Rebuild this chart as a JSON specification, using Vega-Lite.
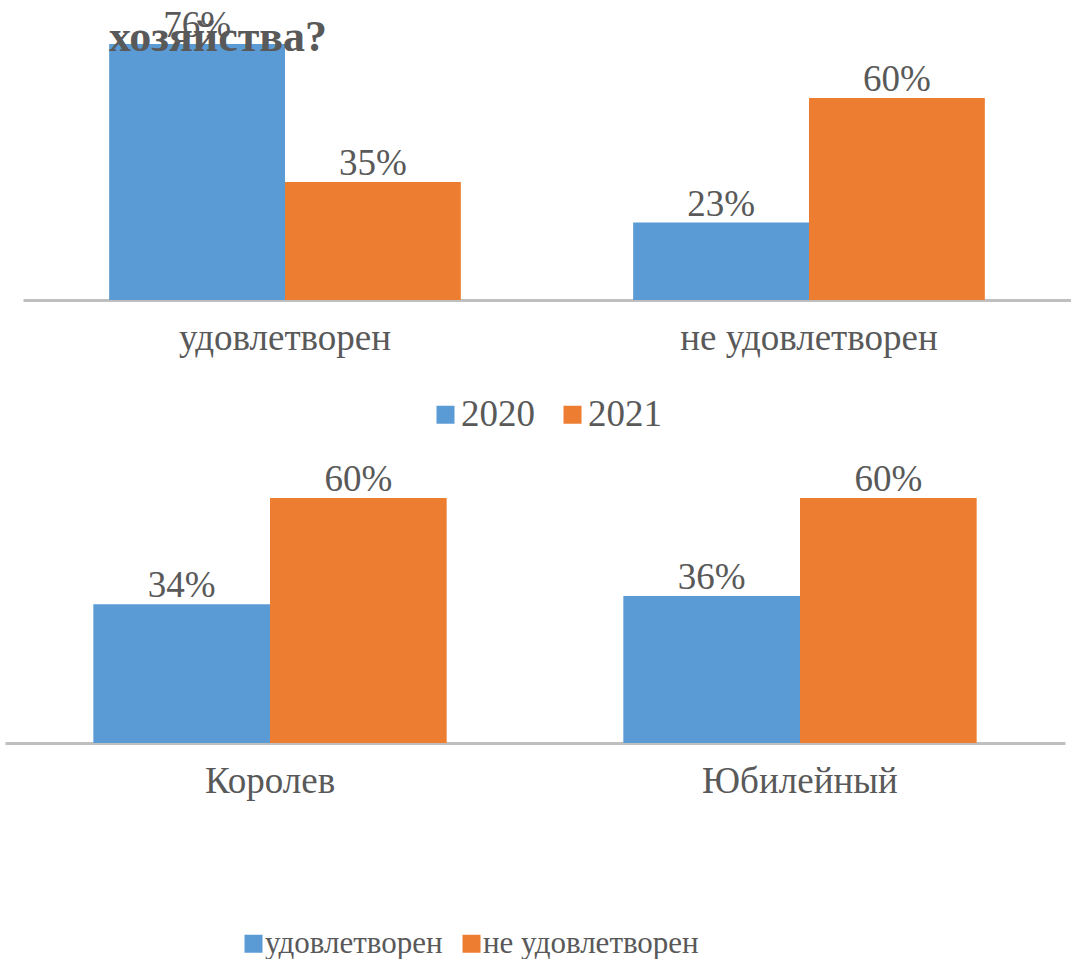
{
  "$schema": "https://vega.github.io/schema/vega-lite/v6.json",
  "padding": {"left": 5, "top": 7, "right": 0, "bottom": 0},
  "autosize": {"type": "pad"},
  "background": "white",
  "align": "none",
  "spacing": 28,
  "config": {
    "font": "Liberation Serif",
    "view": {"stroke": null},
    "axis": {"labelFont": "Liberation Serif", "labelColor": "#595959", "labelFontSize": 37, "labelLimit": 500, "grid": false},
    "legend": {"labelFont": "Liberation Serif", "labelColor": "#595959", "labelFontSize": 37, "labelLimit": 500, "padding": 0}
  },
  "datasets": {
    "top": [
      {"answer": "удовлетворен", "year": "2020", "value": 0.76},
      {"answer": "удовлетворен", "year": "2021", "value": 0.35},
      {"answer": "не удовлетворен", "year": "2020", "value": 0.23},
      {"answer": "не удовлетворен", "year": "2021", "value": 0.60}
    ],
    "bottom": [
      {"city": "Королев", "answer": "удовлетворен", "value": 0.34},
      {"city": "Королев", "answer": "не удовлетворен", "value": 0.60},
      {"city": "Юбилейный", "answer": "удовлетворен", "value": 0.36},
      {"city": "Юбилейный", "answer": "не удовлетворен", "value": 0.60}
    ]
  },
  "resolve": {
    "scale": {"color": "independent", "x": "independent", "xOffset": "independent", "y": "independent"},
    "legend": {"color": "independent"}
  },
  "vconcat": [
    {
      "width": 1051,
      "height": 256,
      "data": {"name": "top"},
      "title": {"text": "хозяйства?", "anchor": "start", "frame": "group", "orient": "top", "offset": -88, "baseline": "alphabetic", "dx": 89, "fontSize": 44, "fontWeight": "bold", "font": "Liberation Serif", "color": "#595959"},
      "encoding": {
        "x": {"field": "answer", "type": "nominal", "sort": ["удовлетворен", "не удовлетворен"], "scale": {"paddingInner": 0, "paddingOuter": 0, "range": [3, 1051]},
          "axis": {"title": null, "labelAngle": 0, "ticks": false, "tickSize": 0, "labelPadding": 20, "domainColor": "#BFBFBF", "domainWidth": 3}},
        "xOffset": {"field": "year", "type": "nominal", "sort": ["2020", "2021"], "scale": {"paddingOuter": 0.49, "paddingInner": 0}},
        "y": {"field": "value", "type": "quantitative", "scale": {"domain": [0, 0.76]},
          "axis": {"title": null, "labels": false, "ticks": false, "grid": false, "domain": true, "domainColor": "white", "offset": 15}}
      },
      "layer": [
        {
          "mark": {"type": "bar"},
          "encoding": {
            "color": {"field": "year", "type": "nominal", "sort": ["2020", "2021"], "scale": {"range": ["#5B9BD5", "#ED7D31"]},
              "legend": {"orient": "none", "legendX": 407, "legendY": 352, "direction": "horizontal", "title": null, "symbolType": "square", "symbolSize": 324, "columnPadding": 19, "labelOffset": -3, "symbolStrokeWidth": 0}}
          }
        },
        {
          "mark": {"type": "text", "baseline": "alphabetic", "dy": -7, "fontSize": 37, "color": "#595959", "font": "Liberation Serif"},
          "encoding": {"text": {"field": "value", "type": "quantitative", "format": ".0%"}}
        }
      ]
    },
    {
      "width": 1051,
      "height": 245,
      "data": {"name": "bottom"},
      "encoding": {
        "x": {"field": "city", "type": "nominal", "sort": ["Королев", "Юбилейный"], "scale": {"paddingInner": 0, "paddingOuter": 0, "range": [-15, 1045]},
          "axis": {"title": null, "labelAngle": 0, "ticks": false, "tickSize": 0, "labelPadding": 20, "domainColor": "#BFBFBF", "domainWidth": 3}},
        "xOffset": {"field": "answer", "type": "nominal", "sort": ["удовлетворен", "не удовлетворен"], "scale": {"paddingOuter": 0.5, "paddingInner": 0}},
        "y": {"field": "value", "type": "quantitative", "scale": {"domain": [0, 0.6]}, "axis": null}
      },
      "layer": [
        {
          "mark": {"type": "bar"},
          "encoding": {
            "color": {"field": "answer", "type": "nominal", "sort": ["удовлетворен", "не удовлетворен"], "scale": {"domain": ["удовлетворен", "не удовлетворен"], "range": ["#5B9BD5", "#ED7D31"]},
              "legend": {"orient": "none", "legendX": 218, "legendY": 430, "direction": "horizontal", "title": null, "symbolType": "square", "symbolSize": 324, "columnPadding": 13, "labelOffset": -4, "labelFontSize": 31, "symbolStrokeWidth": 0}}
          }
        },
        {
          "mark": {"type": "text", "baseline": "alphabetic", "dy": -7, "fontSize": 37, "color": "#595959", "font": "Liberation Serif"},
          "encoding": {"text": {"field": "value", "type": "quantitative", "format": ".0%"}}
        }
      ]
    }
  ]
}
